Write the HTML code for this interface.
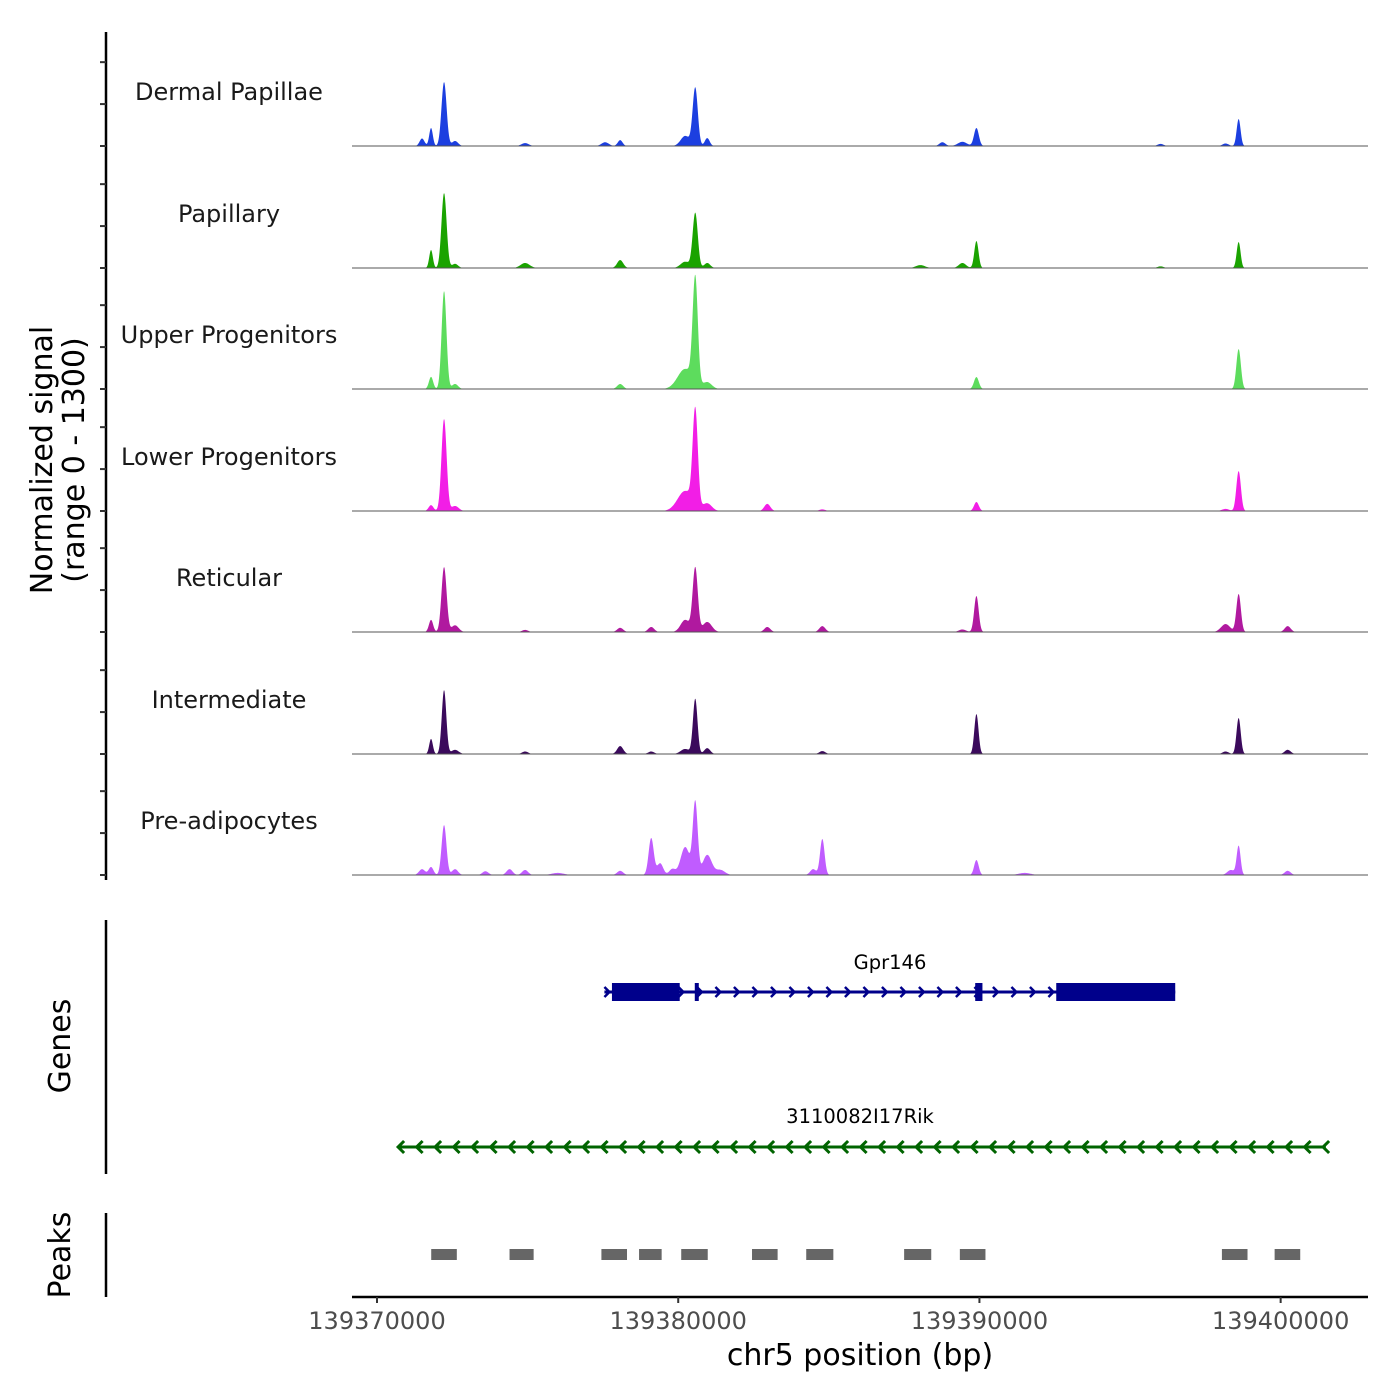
<!DOCTYPE html>
<html><head><meta charset="utf-8"><style>
html,body{margin:0;padding:0;background:#fff}
svg{display:block;font-family:"DejaVu Sans","Liberation Sans",sans-serif}
</style></head><body>
<svg id="chart" width="1400" height="1400" viewBox="0 0 1400 1400"></svg>
<script>
const trackNames=["Dermal Papillae","Papillary","Upper Progenitors","Lower Progenitors","Reticular","Intermediate","Pre-adipocytes"];
const trackColors=["#1c3fe0","#1aa300","#5ddc5d","#f21ee6","#b0199f","#3b0a5c","#c05cff"];
// peaks per track: [position bp, value, sigma bp]
const dpPeaks=[[139371495,90,80],[139371794,215,60],[139372226,763,85],[139372591,60,100],[139377574,45,120],[139378073,70,80],[139380232,120,150],[139380565,692,85],[139380963,95,80],[139388770,45,100],[139389435,50,150],[139389900,215,80],[139398605,322,65],[139398172,30,100],[139374917,35,120],[139396012,25,100]];
const papPeaks=[[139371794,215,60],[139372226,895,85],[139372591,50,100],[139374917,60,150],[139378073,95,100],[139380232,75,150],[139380565,656,85],[139380963,60,100],[139388040,35,150],[139389435,60,120],[139389900,322,70],[139398605,310,65],[139396012,20,100]];
const upPeaks=[[139371794,145,70],[139372226,1169,80],[139372591,60,100],[139378073,60,100],[139380232,240,250],[139380565,1265,85],[139380963,80,150],[139389900,143,80],[139398605,477,75]];
const lowPeaks=[[139371794,70,80],[139372226,1098,85],[139372591,60,120],[139380232,240,250],[139380565,1145,85],[139380963,90,150],[139382957,85,100],[139384784,20,100],[139389900,107,80],[139398172,25,120],[139398605,477,75]];
const retPeaks=[[139371794,145,70],[139372226,775,85],[139372591,80,120],[139374917,25,100],[139378073,50,100],[139379103,60,100],[139380232,145,150],[139380565,763,85],[139380963,120,150],[139382957,60,100],[139384784,70,100],[139389900,430,75],[139389435,30,120],[139398172,95,150],[139398605,453,75],[139400233,70,100]];
const intPeaks=[[139371794,180,60],[139372226,763,75],[139372591,50,120],[139374917,30,100],[139378073,95,100],[139379103,30,100],[139380232,60,150],[139380565,656,75],[139380963,70,100],[139384784,35,100],[139389900,477,70],[139398172,30,100],[139398605,430,70],[139400233,50,100]];
const prePeaks=[[139371495,70,100],[139371794,95,80],[139372226,596,80],[139372591,70,100],[139373600,45,100],[139374400,70,100],[139374917,60,100],[139378073,50,100],[139379103,441,85],[139379400,140,100],[139379800,70,100],[139380232,334,150],[139380565,859,80],[139380963,240,150],[139381400,60,150],[139384480,70,100],[139384784,430,75],[139389900,179,75],[139398350,60,120],[139398605,346,65],[139400233,50,100],[139391500,25,200],[139376000,25,200]];
const trackPeaks=[dpPeaks,papPeaks,upPeaks,lowPeaks,retPeaks,intPeaks,prePeaks];
const xTicks=[139370000,139380000,139390000,139400000];
const peakRegions=[[139371800,139372650],[139374400,139375200],[139377450,139378300],[139378700,139379450],[139380100,139380980],[139382450,139383300],[139384250,139385150],[139387500,139388400],[139389350,139390200],[139398050,139398900],[139399800,139400650]];
const gpr146={start:139377550,end:139396500,exons:[[139377800,139380050],[139380550,139380680],[139389860,139390100],[139392550,139396500]]};
const rik={start:139370700,end:139401500};

const NS="http://www.w3.org/2000/svg";
const svg=document.getElementById("chart");
function mk(tag,attrs,parent){const e=document.createElementNS(NS,tag);for(const k in attrs)e.setAttribute(k,attrs[k]);(parent||svg).appendChild(e);return e;}
const X0=352,X1=1368,B0=139369170,B1=139402900;
const xs=bp=>X0+(bp-B0)/(B1-B0)*(X1-X0);
const pxPerVal=109/1300;
const baselines=[146,268,389,511,632,754,875];
const ys=(v,b)=>b-v*pxPerVal;

// left axis
let e=mk("line",{x1:106,y1:32,x2:106,y2:880,stroke:"#000","stroke-width":2.5});

baselines.forEach(b=>{[0,500,1000].forEach(v=>{const t=mk("line",{x1:100,x2:106,y1:ys(v,b),y2:ys(v,b),stroke:"#333","stroke-width":2});
});});
e=mk("text",{x:0,y:0,"font-size":30,"text-anchor":"middle",transform:"translate(52,460) rotate(-90)"});e.textContent="Normalized signal";

e=mk("text",{x:0,y:0,"font-size":30,"text-anchor":"middle",transform:"translate(84,460) rotate(-90)"});e.textContent="(range 0 - 1300)";


trackNames.forEach((name,i)=>{
  const b=baselines[i];
  const lab=mk("text",{x:229,y:b-46,"font-size":24,"text-anchor":"middle",fill:"#1a1a1a"});lab.textContent=name;
  
  let d=`M${X0},${b}`;
  for(let x=X0;x<=X1;x+=0.5){
    const bp=B0+(x-X0)/(X1-X0)*(B1-B0);
    let v=0;trackPeaks[i].forEach(p=>{const z=(bp-p[0])/p[2];v+=p[1]*Math.exp(-0.5*z*z);});
    d+=`L${x.toFixed(1)},${ys(v,b).toFixed(2)}`;
  }
  d+=`L${X1},${b}Z`;
  const p=mk("path",{d,fill:trackColors[i]});
  
  const bl=mk("line",{x1:X0,x2:X1,y1:b,y2:b,stroke:"#555","stroke-width":1});
  
});

// genes panel
e=mk("line",{x1:106,y1:920,x2:106,y2:1174,stroke:"#000","stroke-width":2.5});

e=mk("text",{x:0,y:0,"font-size":30,"text-anchor":"middle",transform:"translate(70,1046) rotate(-90)"});e.textContent="Genes";

const gy=992, gNavy="#00008b";
e=mk("line",{x1:xs(gpr146.start),x2:xs(gpr146.end),y1:gy,y2:gy,stroke:gNavy,"stroke-width":3});

for(let x=xs(gpr146.start)+3;x<xs(gpr146.end);x+=18.5){
  const a=mk("polyline",{points:`${x-3},${gy-5} ${x+2},${gy} ${x-3},${gy+5}`,fill:"none",stroke:gNavy,"stroke-width":2.5});
  
}
gpr146.exons.forEach(ex=>{const r=mk("rect",{x:xs(ex[0]),y:gy-9,width:Math.max(4,xs(ex[1])-xs(ex[0])),height:18,fill:gNavy});
});
e=mk("text",{x:890,y:969,"font-size":19.5,"text-anchor":"middle",fill:"#000"});e.textContent="Gpr146";

const ry=1147,green="#006400";
e=mk("line",{x1:xs(rik.start),x2:xs(rik.end),y1:ry,y2:ry,stroke:green,"stroke-width":3});

for(let x=xs(rik.start)+2;x<xs(rik.end);x+=18.5){
  const a=mk("polyline",{points:`${x+4},${ry-6} ${x-2},${ry} ${x+4},${ry+6}`,fill:"none",stroke:green,"stroke-width":3});
  
}
e=mk("text",{x:860,y:1123,"font-size":19.5,"text-anchor":"middle",fill:"#000"});e.textContent="3110082I17Rik";


// peaks panel
e=mk("line",{x1:106,y1:1213,x2:106,y2:1297,stroke:"#000","stroke-width":2.5});

e=mk("text",{x:0,y:0,"font-size":30,"text-anchor":"middle",transform:"translate(70,1255) rotate(-90)"});e.textContent="Peaks";

peakRegions.forEach(pr=>{const r=mk("rect",{x:xs(pr[0]),y:1249,width:xs(pr[1])-xs(pr[0]),height:11,fill:"#666"});
});

// x axis
e=mk("line",{x1:X0,x2:X1,y1:1297,y2:1297,stroke:"#000","stroke-width":2.5});

xTicks.forEach(t=>{
  const tk=mk("line",{x1:xs(t),x2:xs(t),y1:1297,y2:1303,stroke:"#333","stroke-width":2});
  
  const tl=mk("text",{x:xs(t),y:1329,"font-size":24,"text-anchor":"middle",fill:"#4d4d4d"});tl.textContent=String(t);
  
});
e=mk("text",{x:860,y:1365,"font-size":30,"text-anchor":"middle",fill:"#000"});e.textContent="chr5 position (bp)";

</script>
</body></html>
